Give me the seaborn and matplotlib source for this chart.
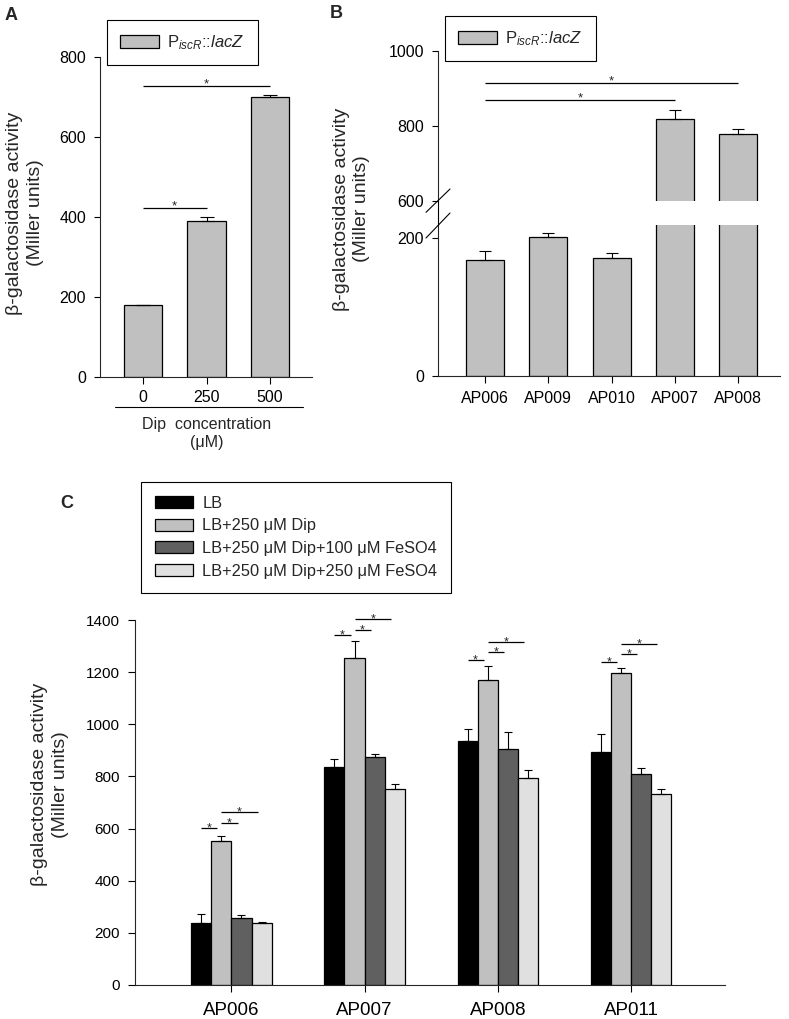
import numpy as np
import pandas as pd
import matplotlib
matplotlib.use("Agg")
import matplotlib.pyplot as plt
from matplotlib.lines import Line2D
import seaborn as sns

# ---------------- data ----------------
a_conc = ["0", "250", "500"]
a_vals = [179, 391, 699]
a_err = [2, 9, 7]
a_sig_pairs = [(0, 1), (0, 2)]
a_sig_y = [422, 728]

b_strains = ["AP006", "AP009", "AP010", "AP007", "AP008"]
b_vals = [168, 202, 172, 817, 779]
b_err = [14, 6, 6, 25, 13]
b_sig_pairs = [(0, 3), (0, 4)]
b_sig_y = [869, 915]

c_strains = ["AP006", "AP007", "AP008", "AP011"]
c_conditions = ["LB", "LB+250 μM Dip", "LB+250 μM Dip+100 μM FeSO4",
                "LB+250 μM Dip+250 μM FeSO4"]
c_lb = [237, 837, 935, 895]
c_dip = [551, 1254, 1171, 1196]
c_fe100 = [258, 873, 904, 809]
c_fe250 = [237, 753, 795, 731]
c_lb_err = [35, 31, 47, 69]
c_dip_err = [21, 65, 52, 21]
c_fe100_err = [9, 14, 68, 22]
c_fe250_err = [6, 18, 29, 20]
# significance bars: (LB vs Dip), (Dip vs Fe100), (Dip vs Fe250)
c_sig_pairs = [(0, 1), (1, 2), (1, 3)]
c_sig1 = [601, 1342, 1247, 1240]
c_sig2 = [621, 1363, 1276, 1268]
c_sig3 = [662, 1404, 1317, 1308]

grey = "#c0c0c0"
c_colors = ["#000000", "#c0c0c0", "#606060", "#e0e0e0"]

# ---------------- style ----------------
sns.set_style("ticks")
plt.rcParams["font.family"] = ["Liberation Sans", "DejaVu Sans"]
plt.rcParams["mathtext.fontset"] = "custom"
plt.rcParams["mathtext.rm"] = "Liberation Sans"
plt.rcParams["mathtext.it"] = "Liberation Sans:italic"
plt.rcParams["mathtext.bf"] = "Liberation Sans:bold"
plt.rcParams["axes.linewidth"] = 0.8

W, H = 789, 1019
fig = plt.figure(figsize=(W / 100, H / 100), dpi=100)


def rect(l, t, r, b):
    return [l / W, 1 - b / H, (r - l) / W, (b - t) / H]


def fx(px):
    return px / W


def fy(py):
    return 1 - py / H


edge_lw = 0.9
leg_label = r"P$_{\mathit{iscR}}$::$\mathit{lacZ}$"


def style_axis(ax, xfs, yfs, xpad, ypad, ylen=4, xlen=5):
    sns.despine(ax=ax)
    ax.tick_params(axis="y", direction="out", length=ylen, width=0.8,
                   labelsize=yfs, pad=ypad, colors="black")
    ax.tick_params(axis="x", direction="out", length=xlen, width=0.8,
                   labelsize=xfs, pad=xpad, colors="black")
    ax.set_xlabel("")
    ax.set_ylabel("")
    ax.set_facecolor("none")


def star(ax, x0, x1, y, off=0.0, fs=9.5, shrink=0.0):
    ax.plot([x0, x1 - shrink], [y, y], color="black", lw=0.9,
            clip_on=False, solid_capstyle="butt")
    ax.annotate("*", xy=((x0 + x1 - shrink) / 2, y), xytext=(0, off),
                textcoords="offset points", ha="center", va="baseline",
                fontsize=fs, annotation_clip=False)


def one_legend(ax, anchor):
    lg = ax.legend([ax.containers[0]], [leg_label], loc="upper left",
                   bbox_to_anchor=anchor, bbox_transform=fig.transFigure,
                   fancybox=False, edgecolor="black", framealpha=1,
                   fontsize=12, handlelength=2.3, handleheight=0.78,
                   borderpad=0.8, handletextpad=0.5, borderaxespad=0)
    lg.get_frame().set_linewidth(0.8)
    return lg


# ---------------- Panel A ----------------
axA = fig.add_axes(rect(100, 57, 312, 377))
dfa = pd.DataFrame({"conc": a_conc, "val": a_vals})
sns.barplot(data=dfa, x="conc", y="val", color=grey, saturation=1,
            edgecolor="black", linewidth=edge_lw, width=0.61,
            errorbar=None, ax=axA)
xa = [p.get_x() + p.get_width() / 2 for p in axA.patches]
axA.errorbar(xa, a_vals, yerr=[np.zeros(3), a_err], fmt="none",
             ecolor="black", elinewidth=0.8, capsize=5, capthick=0.8)
axA.set_xlim(-0.677, 2.66)
axA.set_ylim(0, 800)
axA.set_yticks([0, 200, 400, 600, 800])
style_axis(axA, 11.5, 11.5, 4.5, 6)
for (i, j), y in zip(a_sig_pairs, a_sig_y):
    star(axA, xa[i], xa[j], y, off=-1)
one_legend(axA, (fx(107), fy(20)))
# x-axis group label
fig.add_artist(Line2D([fx(115), fx(303)], [fy(407), fy(407)],
                      color="black", lw=0.8))
fig.text(fx(206.5), fy(433), "Dip  concentration\n(μM)", ha="center",
         va="center", fontsize=11.5, linespacing=1.25)
fig.text(fx(25), fy(213), "β-galactosidase activity\n(Miller units)",
         rotation=90, ha="center", va="center", fontsize=14,
         linespacing=1.3, multialignment="center")
fig.text(fx(5), fy(20), "A", fontsize=13, fontweight="bold",
         ha="left", va="baseline")

# ---------------- Panel B (broken axis) ----------------
axB_lo = fig.add_axes(rect(437.7, 225.3, 780, 375.7))
axB_hi = fig.add_axes(rect(437.7, 50.7, 780, 201))
dfb = pd.DataFrame({"strain": b_strains, "val": b_vals})
for ax in (axB_lo, axB_hi):
    sns.barplot(data=dfb, x="strain", y="val", color=grey, saturation=1,
                edgecolor="black", linewidth=edge_lw, width=0.6,
                errorbar=None, ax=ax)
    xb = [p.get_x() + p.get_width() / 2 for p in ax.patches]
    ax.errorbar(xb, b_vals, yerr=[np.zeros(5), b_err], fmt="none",
                ecolor="black", elinewidth=0.8, capsize=4.5, capthick=0.8)
    ax.set_xlim(-0.748, 4.66)
    style_axis(ax, 11.5, 11.5, 6, 6)
axB_lo.set_ylim(0, 219)
axB_lo.set_yticks([0, 200])
axB_hi.set_ylim(600, 1000)
axB_hi.set_yticks([600, 800, 1000])
axB_hi.spines["bottom"].set_visible(False)
axB_hi.tick_params(axis="x", bottom=False, labelbottom=False)
for (i, j), y in zip(b_sig_pairs, b_sig_y):
    star(axB_hi, xb[i], xb[j], y, off=-1)
# continuous spine through the break and break marks
fig.add_artist(Line2D([fx(437.7), fx(437.7)], [fy(201), fy(225.3)],
                      color="black", lw=0.8))
fig.add_artist(Line2D([fx(426), fx(450)], [fy(212.3), fy(189)],
                      color="black", lw=0.8))
fig.add_artist(Line2D([fx(426), fx(450)], [fy(238), fy(213)],
                      color="black", lw=0.8))
one_legend(axB_hi, (fx(445), fy(16)))
fig.text(fx(351.5), fy(209), "β-galactosidase activity\n(Miller units)",
         rotation=90, ha="center", va="center", fontsize=14,
         linespacing=1.3, multialignment="center")
fig.text(fx(330), fy(18), "B", fontsize=13, fontweight="bold",
         ha="left", va="baseline")

# ---------------- Panel C ----------------
axC = fig.add_axes(rect(135, 620, 725, 985))
c_vals = [c_lb, c_dip, c_fe100, c_fe250]
c_errs = [c_lb_err, c_dip_err, c_fe100_err, c_fe250_err]
dfc = pd.DataFrame({
    "strain": np.repeat([c_strains], 4, axis=0).ravel(),
    "condition": np.repeat(c_conditions, len(c_strains)),
    "val": np.concatenate(c_vals),
})
sns.barplot(data=dfc, x="strain", y="val", hue="condition",
            order=c_strains, hue_order=c_conditions, palette=c_colors,
            saturation=1, edgecolor="black", linewidth=edge_lw,
            width=0.605, gap=0, errorbar=None, legend=False, ax=axC)
centers = []
for cont, vals, errs in zip(axC.containers, c_vals, c_errs):
    xs = [p.get_x() + p.get_width() / 2 for p in cont.patches]
    centers.append(xs)
    axC.errorbar(xs, vals, yerr=[np.zeros(len(vals)), errs], fmt="none",
                 ecolor="black", elinewidth=0.8, capsize=3, capthick=0.8)
axC.set_xlim(-0.724, 3.706)
axC.set_ylim(0, 1400)
axC.set_yticks(np.arange(0, 1401, 200))
style_axis(axC, 13.5, 11, 7, 6, ylen=5)
for k in range(len(c_strains)):
    for (i, j), ys in zip(c_sig_pairs, [c_sig1, c_sig2, c_sig3]):
        star(axC, centers[i][k], centers[j][k], ys[k], off=-2.5, fs=9,
             shrink=0.03)
legC = axC.legend(axC.containers, c_conditions, loc="upper left",
                  bbox_to_anchor=(fx(140.7), fy(481.7)),
                  bbox_transform=fig.transFigure, fancybox=False,
                  edgecolor="black", framealpha=1, fontsize=11.8,
                  handlelength=2.35, handleheight=0.75, borderpad=0.85,
                  handletextpad=0.55, labelspacing=0.47, borderaxespad=0)
legC.get_frame().set_linewidth(0.8)
fig.text(fx(50), fy(784.5), "β-galactosidase activity\n(Miller units)",
         rotation=90, ha="center", va="center", fontsize=14,
         linespacing=1.3, multialignment="center")
fig.text(fx(60), fy(508), "C", fontsize=13, fontweight="bold",
         ha="left", va="baseline")

fig.savefig("out.png", dpi=100, facecolor="white")
